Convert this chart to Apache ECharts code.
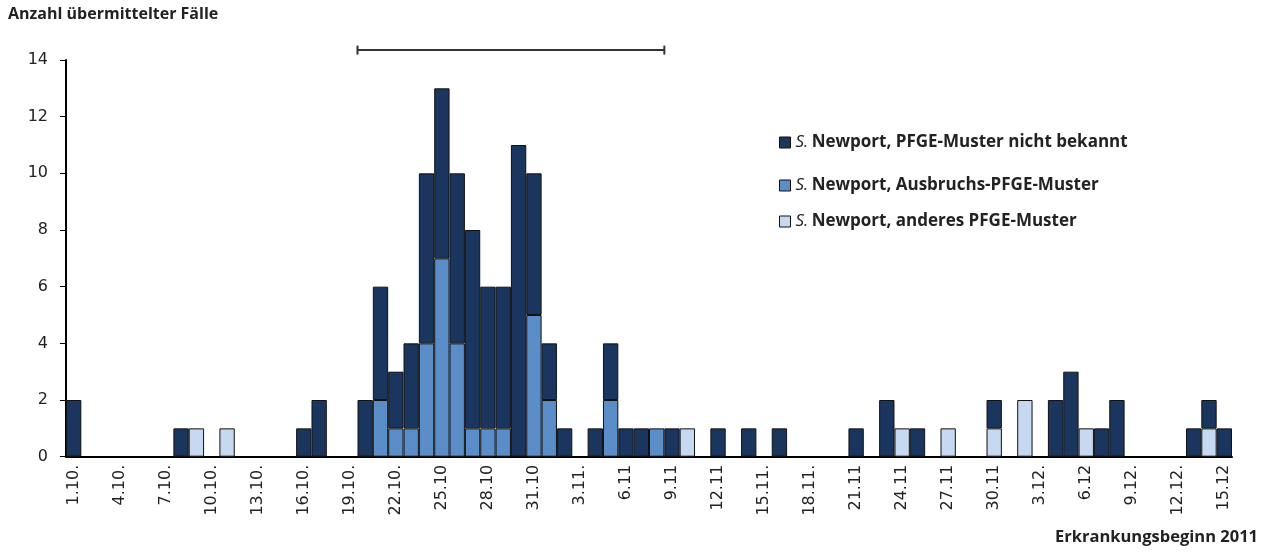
<!DOCTYPE html>
<html>
<head>
<meta charset="utf-8">
<script src="https://cdn.jsdelivr.net/npm/echarts@6/dist/echarts.min.js"></script>
<style>
html,body{margin:0;padding:0;background:#fff;}
#main{width:1268px;height:554px;}
</style>
</head>
<body>
<div id="main"></div>
<script>
const days = [
 '1.10.','2.10.','3.10.','4.10.','5.10.','6.10.','7.10.','8.10.','9.10.','10.10.',
 '11.10.','12.10.','13.10.','14.10.','15.10.','16.10.','17.10.','18.10.','19.10.','20.10.',
 '21.10.','22.10.','23.10.','24.10.','25.10','26.10.','27.10.','28.10','29.10.','30.10.',
 '31.10','1.11.','2.11.','3.11.','4.11.','5.11.','6.11','7.11.','8.11.','9.11',
 '10.11.','11.11.','12.11','13.11.','14.11.','15.11.','16.11.','17.11.','18.11.','19.11.',
 '20.11.','21.11','22.11.','23.11.','24.11','25.11.','26.11.','27.11','28.11.','29.11.',
 '30.11','1.12.','2.12.','3.12.','4.12.','5.12.','6.12','7.12.','8.12.','9.12.',
 '10.12.','11.12.','12.12.','13.12.','14.12.','15.12'
];
// S. Newport, PFGE-Muster nicht bekannt
const unknownPattern = [
 2,0,0,0,0,0,0,1,0,0,
 0,0,0,0,0,1,2,0,0,2,
 4,2,3,6,6,6,7,5,5,11,
 5,2,1,0,1,2,1,1,0,1,
 0,0,1,0,1,0,1,0,0,0,
 0,1,0,2,0,1,0,0,0,0,
 1,0,0,0,2,3,0,1,2,0,
 0,0,0,1,1,1
];
// S. Newport, Ausbruchs-PFGE-Muster
const outbreakPattern = [
 0,0,0,0,0,0,0,0,0,0,
 0,0,0,0,0,0,0,0,0,0,
 2,1,1,4,7,4,1,1,1,0,
 5,2,0,0,0,2,0,0,1,0,
 0,0,0,0,0,0,0,0,0,0,
 0,0,0,0,0,0,0,0,0,0,
 0,0,0,0,0,0,0,0,0,0,
 0,0,0,0,0,0
];
// S. Newport, anderes PFGE-Muster
const otherPattern = [
 0,0,0,0,0,0,0,0,1,0,
 1,0,0,0,0,0,0,0,0,0,
 0,0,0,0,0,0,0,0,0,0,
 0,0,0,0,0,0,0,0,0,0,
 1,0,0,0,0,0,0,0,0,0,
 0,0,0,0,1,0,0,1,0,0,
 1,0,2,0,0,0,1,0,0,0,
 0,0,0,0,1,0
];
const yTicks = [0,2,4,6,8,10,12,14];
const outbreakPeriod = ['20.10.', '8.11.'];
const bracketLevel = 14.35;

const names = {
  unknown: 'S. Newport, PFGE-Muster nicht bekannt',
  outbreak: 'S. Newport, Ausbruchs-PFGE-Muster',
  other: 'S. Newport, anderes PFGE-Muster'
};
const colors = { unknown: '#1b365e', outbreak: '#5b8ec8', other: '#c6d9f1' };
const FONT = '"Open Sans", "Noto Sans", sans-serif';
const LFONT = '"DejaVu Sans", "Open Sans", sans-serif';
const toData = arr => arr.map(v => v === 0 ? '-' : v);

const barBase = {
  type: 'bar', stack: 'cases', barWidth: '100%', barCategoryGap: '0%',
  itemStyle: { borderColor: '#111', borderWidth: 1 },
  emphasis: { disabled: true }
};

const legendRich = {
  i: { fontStyle: 'italic', fontWeight: 'normal', fontSize: 17, color: '#222', fontFamily: FONT },
  b: { fontWeight: 'bold', fontSize: 17, color: '#222', fontFamily: FONT }
};
function legendAt(name, top) {
  return {
    data: [name], left: 774, top: top, itemWidth: 11, itemHeight: 11, icon: 'rect',
    selectedMode: false, itemGap: 6,
    formatter: n => '{i|S.} {b|' + n.slice(3) + '}',
    textStyle: { rich: legendRich, padding: [0,0,0,0] },
    itemStyle: { borderColor: '#111', borderWidth: 1 }
  };
}

const chart = echarts.init(document.getElementById('main'));
chart.setOption({
  animation: false,
  backgroundColor: '#fff',
  grid: { left: 66, right: 36, top: 60, bottom: 97.3, containLabel: false },
  legend: [
    legendAt(names.unknown, 129),
    legendAt(names.outbreak, 172),
    legendAt(names.other, 208)
  ],
  graphic: [
    { type: 'text', left: 8, top: 6, style: { text: 'Anzahl übermittelter Fälle', font: 'bold 16px ' + FONT, fill: '#222' } },
    { type: 'text', right: 10, top: 529, style: { text: 'Erkrankungsbeginn 2011', font: 'bold 16.5px ' + FONT, fill: '#222' } }
  ],
  xAxis: {
    type: 'category', data: days, boundaryGap: true,
    axisLine: { lineStyle: { color: '#000', width: 2 } },
    axisTick: { interval: 0, length: 6, lineStyle: { color: '#000', width: 1 } },
    axisLabel: { interval: 2, rotate: 90, fontSize: 16, color: '#222', fontFamily: LFONT, margin: 8 },
    splitLine: { show: false }
  },
  yAxis: {
    type: 'value', min: 0, max: 14, interval: 2,
    axisLine: { show: true, lineStyle: { color: '#000', width: 2 } },
    axisTick: { show: true, length: 6, lineStyle: { color: '#000' } },
    axisLabel: { fontSize: 16, color: '#222', fontFamily: LFONT, margin: 18,
      formatter: v => yTicks.includes(v) ? String(v) : '' },
    splitLine: { show: false }
  },
  series: [
    Object.assign({}, barBase, { name: names.outbreak, data: toData(outbreakPattern), itemStyle: Object.assign({}, barBase.itemStyle, { color: colors.outbreak }) }),
    Object.assign({}, barBase, { name: names.other, data: toData(otherPattern), itemStyle: Object.assign({}, barBase.itemStyle, { color: colors.other }) }),
    Object.assign({}, barBase, { name: names.unknown, data: toData(unknownPattern), itemStyle: Object.assign({}, barBase.itemStyle, { color: colors.unknown }) }),
    {
      type: 'custom', name: 'Ausbruchszeitraum', clip: false, silent: true, z: 10,
      data: [[days.indexOf(outbreakPeriod[0]), days.indexOf(outbreakPeriod[1]), bracketLevel]],
      renderItem: function (params, api) {
        const band = api.size([1, 0])[0];
        const p1 = api.coord([api.value(0), api.value(2)]);
        const p2 = api.coord([api.value(1), api.value(2)]);
        const x1 = p1[0] - band / 2, x2 = p2[0] + band / 2, y = p1[1];
        const st = { stroke: '#333', lineWidth: 2 };
        return { type: 'group', children: [
          { type: 'line', shape: { x1: x1, y1: y, x2: x2, y2: y }, style: st },
          { type: 'line', shape: { x1: x1, y1: y - 4.5, x2: x1, y2: y + 4.5 }, style: st },
          { type: 'line', shape: { x1: x2, y1: y - 4.5, x2: x2, y2: y + 4.5 }, style: st }
        ]};
      }
    }
  ]
});
</script>
</body>
</html>
